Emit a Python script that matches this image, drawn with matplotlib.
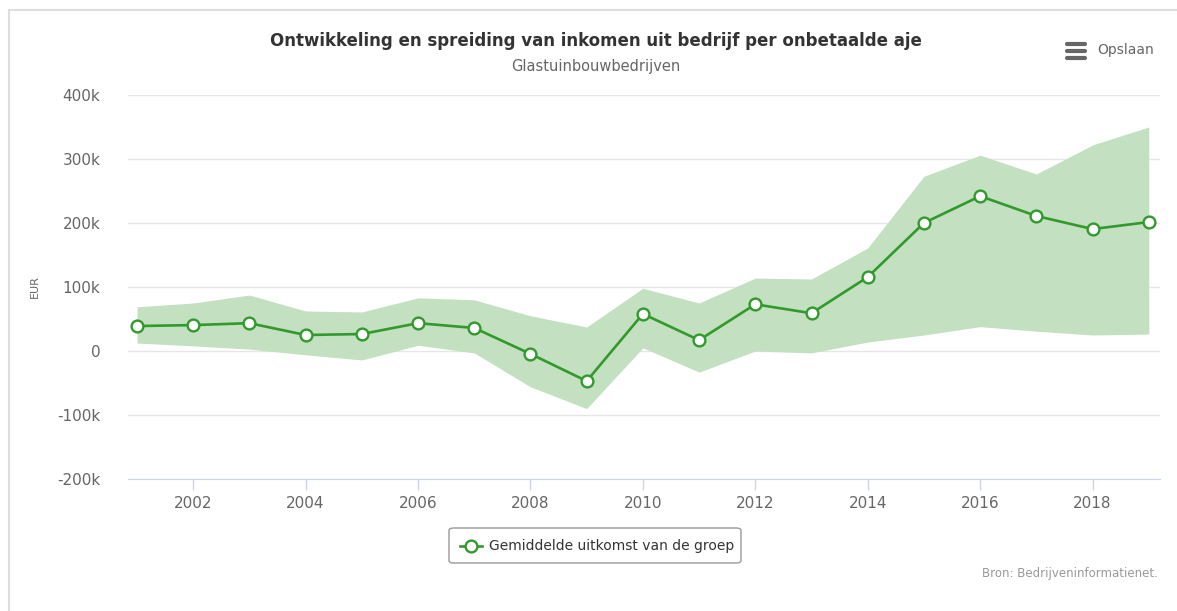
import numpy as np
import matplotlib
matplotlib.use("Agg")
import matplotlib.pyplot as plt
from matplotlib.lines import Line2D
from matplotlib.patches import FancyBboxPatch

# data (EUR per onbetaalde aje)
years = list(range(2001, 2020))
gemiddelde = [39000, 40500, 43500, 25000, 26500, 43500, 36000, -4500, -47000, 58000,
              17000, 73000, 59000, 115500, 200000, 242000, 211000, 190500, 201500]
bovengrens = [69000, 75000, 87500, 62500, 61000, 83000, 80000, 55000, 37500, 98000,
              75000, 114000, 112500, 161000, 273000, 306000, 276500, 322000, 350000]
ondergrens = [12500, 8000, 3000, -6000, -14000, 9000, -3000, -56000, -90000, 5000,
              -33000, 0, -3000, 14000, 25000, 38000, 31000, 25000, 26500]
yticks = [-200000, -100000, 0, 100000, 200000, 300000, 400000]
ylabels = ["-200k", "-100k", "0", "100k", "200k", "300k", "400k"]
xticks = [2002, 2004, 2006, 2008, 2010, 2012, 2014, 2016, 2018]

green = "#329a2c"
band = "#c3e0c1"

fig = plt.figure(figsize=(11.77, 6.11), dpi=100)
ax = fig.add_axes([128 / 1177, 1 - 479 / 611, (1160 - 128) / 1177, (479 - 95) / 611])

ax.fill_between(years, ondergrens, bovengrens, color=band, linewidth=0, zorder=1)
ax.plot(years, gemiddelde, color=green, linewidth=1.9, marker="o", markersize=8.5,
        markerfacecolor="white", markeredgecolor=green, markeredgewidth=1.7, zorder=3,
        clip_on=False)

ax.set_xlim(2000.84, 2019.2)
ax.set_ylim(-200000, 400000)
ax.set_yticks(yticks)
ax.set_yticklabels(ylabels)
ax.set_xticks(xticks)
ax.grid(axis="y", color="#e6e6e6", linewidth=1, zorder=0)
ax.set_axisbelow(True)
for s in ["top", "right", "left"]:
    ax.spines[s].set_visible(False)
ax.spines["bottom"].set_color("#ccd6eb")
ax.spines["bottom"].set_position(("data", -200000))
ax.tick_params(axis="y", length=0, pad=20, labelsize=11, labelcolor="#666666")
ax.tick_params(axis="x", length=8, width=1, color="#ccd6eb", pad=4,
               labelsize=11, labelcolor="#666666")
ax.set_ylabel("EUR", fontsize=8, color="#666666", labelpad=12)

fig.text(596 / 1177, 1 - 41 / 611, "Ontwikkeling en spreiding van inkomen uit bedrijf per onbetaalde aje",
         ha="center", va="center", fontsize=12, fontweight="bold", color="#333333")
fig.text(596 / 1177, 1 - 67 / 611, "Glastuinbouwbedrijven", ha="center", va="center",
         fontsize=10.5, color="#666666")

# export-knop
for dy in (-7, 0, 7):
    fig.add_artist(Line2D([1067 / 1177, 1085 / 1177], [1 - (51 + dy) / 611] * 2,
                          color="#666666", linewidth=3.0, solid_capstyle="round"))
fig.text(1097 / 1177, 1 - 50 / 611, "Opslaan", ha="left", va="center", fontsize=10,
         color="#666666")

# legenda
fig.add_artist(FancyBboxPatch((449 / 1177, 1 - 563 / 611), 292 / 1177, 35 / 611,
                              boxstyle="round,pad=0,rounding_size=0.004",
                              transform=fig.transFigure, facecolor="white",
                              edgecolor="#999999", linewidth=1))
fig.add_artist(Line2D([460 / 1177, 482 / 1177], [1 - 546 / 611] * 2, color=green,
                      linewidth=1.9))
fig.add_artist(Line2D([471 / 1177], [1 - 546 / 611], color=green, marker="o",
                      markersize=8.5, markerfacecolor="white", markeredgecolor=green,
                      markeredgewidth=1.7, linestyle="none"))
fig.text(489 / 1177, 1 - 546 / 611, "Gemiddelde uitkomst van de groep", ha="left",
         va="center", fontsize=10, color="#333333")

fig.text(1158 / 1177, 1 - 573 / 611, "Bron: Bedrijveninformatienet.", ha="right",
         va="center", fontsize=8.5, color="#999999")

# kader
fig.add_artist(Line2D([9 / 1177, 9 / 1177], [0, 1 - 10 / 611], color="#dddddd", linewidth=1.5))
fig.add_artist(Line2D([9 / 1177, 1], [1 - 10 / 611] * 2, color="#dddddd", linewidth=1.5))

fig.savefig("out.png", dpi=100)
